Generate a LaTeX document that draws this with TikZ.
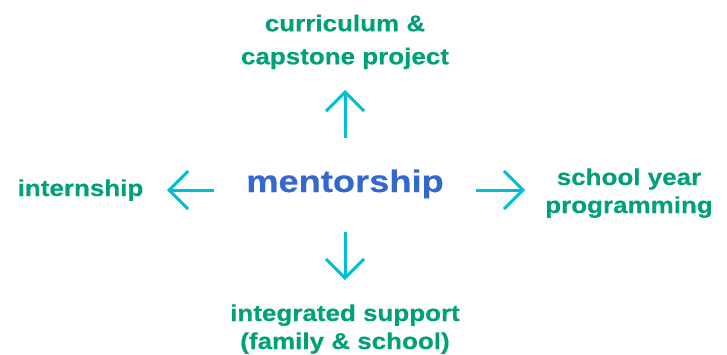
\documentclass[tikz,border=0pt]{standalone}
\usepackage{fontspec}
\usetikzlibrary{arrows.meta}
\newfontfamily\lblfont{Liberation Sans}[FakeStretch=1.13,FakeBold=0.35]
\newfontfamily\ctrfont{Liberation Sans}[FakeStretch=1.17,FakeBold=0.35]
\definecolor{lblgreen}{RGB}{0,160,120}
\definecolor{ctrblue}{RGB}{52,104,204}
\definecolor{arrcyan}{RGB}{0,190,212}
\tikzset{
  lbl/.style={text=lblgreen, inner sep=0pt, align=center, anchor=base,
    font=\lblfont\bfseries\fontsize{23}{28}\selectfont},
  ctr/.style={text=ctrblue, inner sep=0pt, anchor=base,
    font=\ctrfont\bfseries\fontsize{31}{36}\selectfont},
  arr/.style={draw=arrcyan, line width=3pt,
    -{Straight Barb[length=19pt,width=38pt]}}
}
\begin{document}
\begin{tikzpicture}[x=1pt,y=-1pt]
\useasboundingbox (0,0) rectangle (727,354);
\node[ctr] (m) at (345,192) {mentorship};
\node[lbl, font=\lblfont\bfseries\fontsize{23}{33}\selectfont] (top) at (345,64.3) {curriculum \&\\capstone project};
\node[lbl] (left) at (80.5,196) {internship};
\node[lbl] (right) at (629,213) {school year\\programming};
\node[lbl] (bottom) at (345,349) {integrated support\\(family \& school)};
\coordinate (upS) at (345,138);
\coordinate (upE) at (345,90);
\coordinate (leS) at (214,190);
\coordinate (leE) at (167,190);
\coordinate (riS) at (476,190);
\coordinate (riE) at (525,190);
\coordinate (dnS) at (345,232);
\coordinate (dnE) at (345,280);
\draw[arr] (upS) -- (upE);
\draw[arr] (leS) -- (leE);
\draw[arr] (riS) -- (riE);
\draw[arr] (dnS) -- (dnE);
\end{tikzpicture}
\end{document}
